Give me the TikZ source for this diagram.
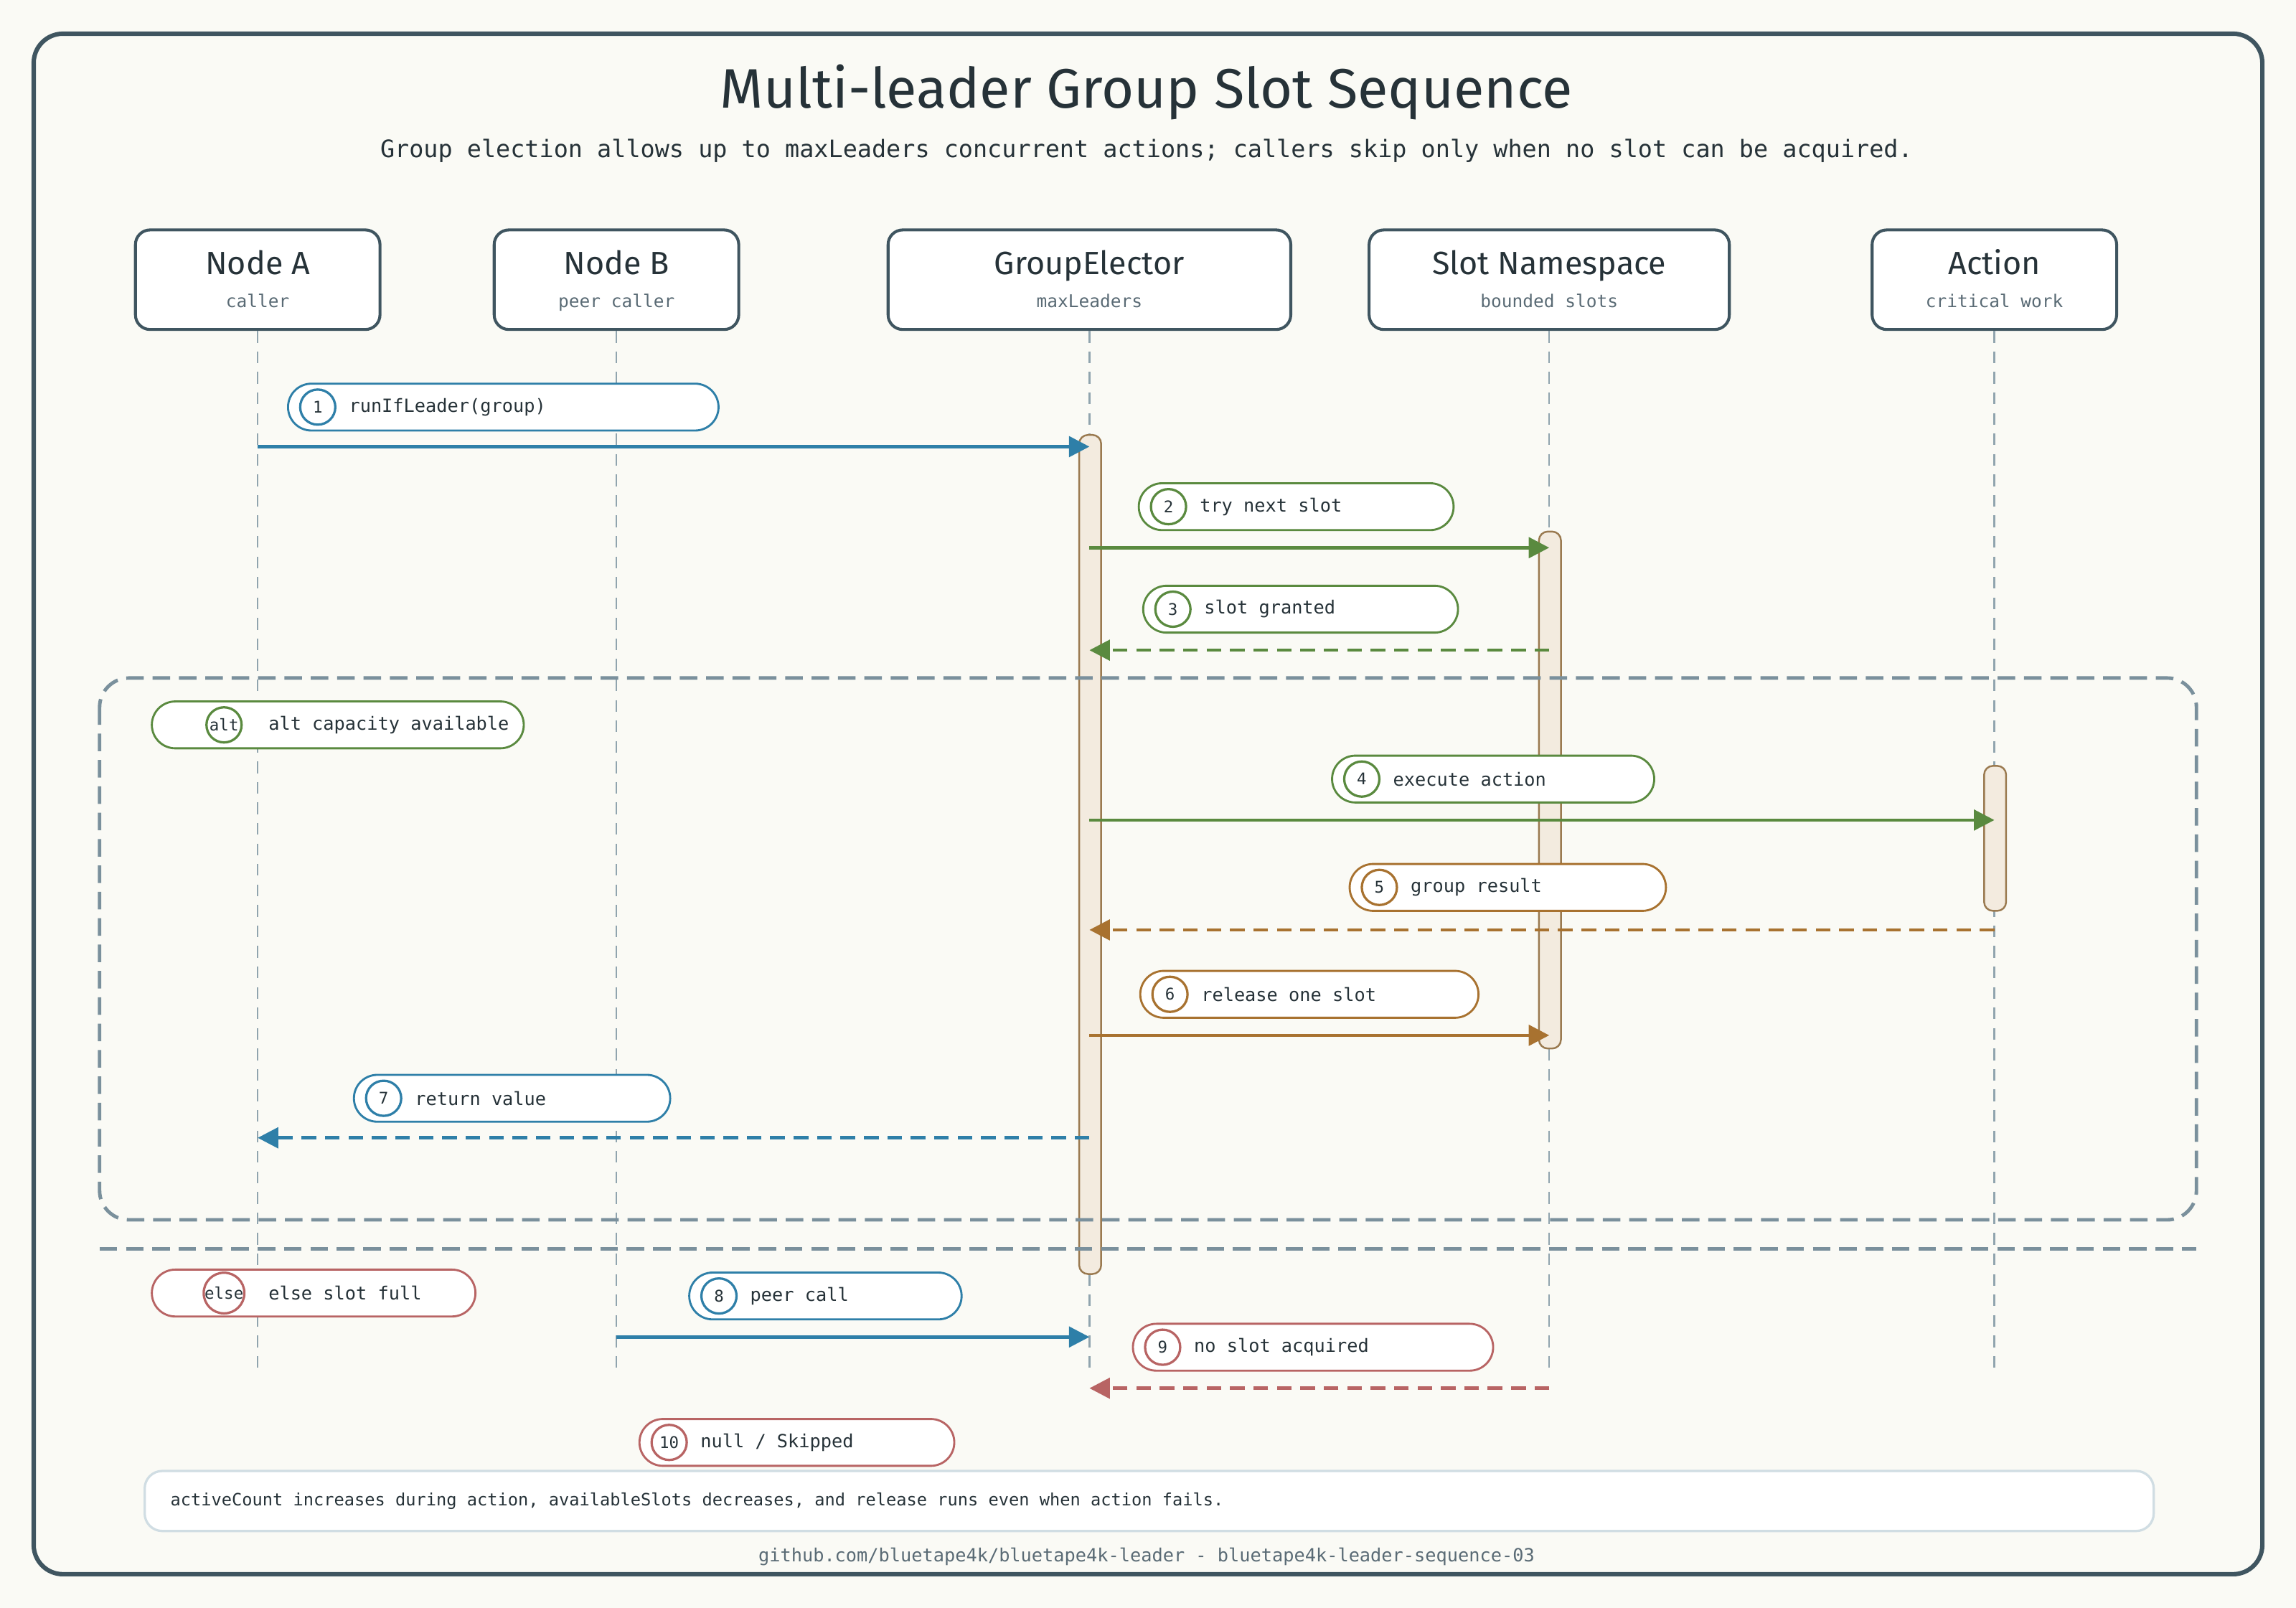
\documentclass[tikz,border=0pt]{standalone}
\usepackage{fontspec}
\setmainfont{Fira Sans}
\newfontfamily\monofont{DejaVu Sans Mono}
\usetikzlibrary{arrows.meta, positioning}

\definecolor{bgpaper}{HTML}{FAFAF5}
\definecolor{frameink}{HTML}{3F5560}
\definecolor{inkdark}{HTML}{263238}
\definecolor{inkgray}{HTML}{5A6B75}
\definecolor{lifegray}{HTML}{90A4AE}
\definecolor{fragray}{HTML}{7A909C}
\definecolor{callblue}{HTML}{2E7FA8}
\definecolor{okgreen}{HTML}{5A8A3F}
\definecolor{resbrown}{HTML}{A87230}
\definecolor{failred}{HTML}{B86464}
\definecolor{barfill}{HTML}{F3EBDF}
\definecolor{bardraw}{HTML}{9A7A50}
\definecolor{noteline}{HTML}{D0DDE3}

\tikzset{
  participant/.style={draw=frameink, line width=1pt, fill=white, rounded corners=5pt,
    minimum height=34pt, inner sep=0pt},
  pname/.style={font=\fontsize{11}{13}\selectfont, text=inkdark, anchor=base, inner sep=0pt},
  psub/.style={font=\monofont\fontsize{6}{7}\selectfont, text=inkgray, anchor=base, inner sep=0pt},
  lifeline/.style={draw=lifegray, line width=0.6pt, dash pattern=on 4pt off 3pt},
  activation/.style={draw=bardraw, fill=barfill, line width=0.6pt, rounded corners=3pt},
  pill/.style={fill=white, line width=0.7pt, rounded corners=8pt, minimum height=16pt, inner sep=0pt},
  num/.style={circle, line width=0.8pt, minimum size=12pt, inner sep=0pt, fill=white,
    font=\monofont\fontsize{5.5}{6}\selectfont, text=inkdark},
  lbl/.style={font=\monofont\fontsize{6.2}{7}\selectfont, text=inkdark, inner sep=0pt},
  call/.style={-{Triangle[length=7pt,width=7pt]}, line width=1.1pt},
  reply/.style={call, dash pattern=on 5pt off 3pt},
}

% pill label: name, x1, x2, y, colour, number, text
\newcommand{\msgpill}[7]{%
  \node[pill, draw=#5, minimum width={(#3-#2)*0.5pt}, anchor=west] (#1) at (#2,#4) {};
  \node[num, draw=#5] (#1n) at ([xshift=10.5pt]#1.west) {#6};
  \node[lbl, anchor=west] (#1t) at ([xshift=21pt]#1.west) {#7};
}

\begin{document}
\begin{tikzpicture}[x=0.5pt, y=-0.5pt]
  \useasboundingbox (0,0) rectangle (1568,1098);
  \fill[bgpaper] (0,0) rectangle (1568,1098);
  \draw[frameink, line width=1.5pt, rounded corners=10pt] (23,23) rectangle (1545,1075);

  % Title
  \node[font=\fontsize{19}{23}\selectfont, text=inkdark] (title) at (783,63) {Multi-leader Group Slot Sequence};
  \node[font=\monofont\fontsize{8.2}{10}\selectfont, text=inkdark] (subtitle) at (783,103)
    {Group election allows up to maxLeaders concurrent actions; callers skip only when no slot can be acquired.};

  % Participants
  \node[participant, minimum width=83.5pt] (nodeA) at (176,191) {};
  \node[participant, minimum width=83.5pt] (nodeB) at (421,191) {};
  \node[participant, minimum width=137.5pt] (elector) at (744,191) {};
  \node[participant, minimum width=123pt] (slots) at (1058,191) {};
  \node[participant, minimum width=83.5pt] (action) at (1362,191) {};
  \foreach \p/\n/\s in {nodeA/Node A/caller, nodeB/Node B/peer caller, elector/GroupElector/maxLeaders,
                        slots/Slot Namespace/bounded slots, action/Action/critical work} {
    \node[pname] at ([yshift=1.8pt]\p.center) {\n};
    \node[psub] at ([yshift=-9.5pt]\p.center) {\s};
  }

  % Lifelines
  \foreach \p in {nodeA, nodeB, elector, slots, action}
    \draw[lifeline] (\p.south) -- ++(0,713);

  % Activation bars
  \draw[activation] (737,297) rectangle (752,870);
  \draw[activation] (1051,363) rectangle (1066,716);
  \draw[activation] (1355,523) rectangle (1370,622);

  % alt fragment
  \draw[fragray, line width=1.2pt, dash pattern=on 6pt off 3pt, rounded corners=10pt] (68,463) rectangle (1500,833);
  \draw[fragray, line width=1.2pt, dash pattern=on 6pt off 3pt] (68,853) -- (1500,853);
  \node[pill, draw=okgreen, minimum width=127pt, anchor=west] (altpill) at (103,495) {};
  \node[num, draw=okgreen] (alttag) at ([xshift=25pt]altpill.west) {alt};
  \node[lbl, anchor=west] (alttext) at ([xshift=40pt]altpill.west) {alt capacity available};
  \node[pill, draw=failred, minimum width=110.5pt, anchor=west] (elsepill) at (103,883) {};
  \node[num, draw=failred] (elsetag) at ([xshift=25pt]elsepill.west) {else};
  \node[lbl, anchor=west] (elsetext) at ([xshift=40pt]elsepill.west) {else slot full};

  % Message end points
  \coordinate (a1) at (176,305);  \coordinate (e1) at (744,305);
  \coordinate (e2) at (744,374);  \coordinate (s2) at (1058,374);
  \coordinate (s3) at (1058,444); \coordinate (e3) at (744,444);
  \coordinate (e4) at (744,560);  \coordinate (x4) at (1362,560);
  \coordinate (x5) at (1362,635); \coordinate (e5) at (744,635);
  \coordinate (e6) at (744,707);  \coordinate (s6) at (1058,707);
  \coordinate (e7) at (744,777);  \coordinate (a7) at (176,777);
  \coordinate (b8) at (421,913);  \coordinate (e8) at (744,913);
  \coordinate (s9) at (1058,948); \coordinate (e9) at (744,948);

  % Messages
  \msgpill{m1}{196}{490}{278}{callblue}{1}{runIfLeader(group)}
  \draw[call, callblue] (a1) -- (e1);
  \msgpill{m2}{777}{992}{346}{okgreen}{2}{try next slot}
  \draw[call, okgreen] (e2) -- (s2);
  \msgpill{m3}{780}{995}{416}{okgreen}{3}{slot granted}
  \draw[reply, okgreen] (s3) -- (e3);
  \msgpill{m4}{909}{1129}{532}{okgreen}{4}{execute action}
  \draw[call, okgreen] (e4) -- (x4);
  \msgpill{m5}{921}{1137}{606}{resbrown}{5}{group result}
  \draw[reply, resbrown] (x5) -- (e5);
  \msgpill{m6}{778}{1009}{679}{resbrown}{6}{release one slot}
  \draw[call, resbrown] (e6) -- (s6);
  \msgpill{m7}{241}{457}{750}{callblue}{7}{return value}
  \draw[reply, callblue] (e7) -- (a7);
  \msgpill{m8}{470}{656}{885}{callblue}{8}{peer call}
  \draw[call, callblue] (b8) -- (e8);
  \msgpill{m9}{773}{1019}{920}{failred}{9}{no slot acquired}
  \draw[reply, failred] (s9) -- (e9);
  \msgpill{m10}{436}{651}{985}{failred}{10}{null / Skipped}

  % Note and footer
  \node[draw=noteline, line width=0.8pt, fill=white, rounded corners=6pt, minimum width=686pt,
        minimum height=20.5pt, anchor=west] (note) at (98,1025) {};
  \node[lbl, font=\monofont\fontsize{5.8}{7}\selectfont, anchor=west] (notetext) at ([xshift=9pt]note.west)
    {activeCount increases during action, availableSlots decreases, and release runs even when action fails.};
  \node[lbl, text=inkgray] (footer) at (783,1063) {github.com/bluetape4k/bluetape4k-leader - bluetape4k-leader-sequence-03};
\end{tikzpicture}
\end{document}
